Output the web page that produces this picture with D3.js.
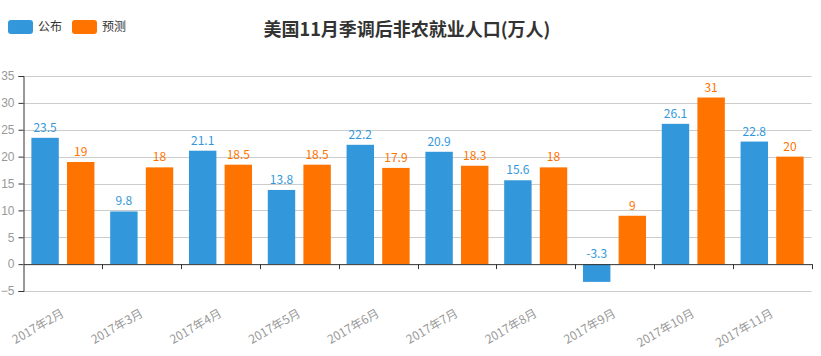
<!DOCTYPE html>
<html><head><meta charset="utf-8">
<script src="https://cdn.jsdelivr.net/npm/d3@7"></script>
<style>body{margin:0;background:#fff}svg{display:block;font-family:"Noto Sans CJK SC","Microsoft YaHei",sans-serif}</style>
</head><body>
<svg id="c" width="821" height="356"></svg>
<script>
const categories = ["2017年2月","2017年3月","2017年4月","2017年5月","2017年6月","2017年7月","2017年8月","2017年9月","2017年10月","2017年11月"];
const published = [23.5, 9.8, 21.1, 13.8, 22.2, 20.9, 15.6, -3.3, 26.1, 22.8];
const forecast = [19, 18, 18.5, 18.5, 17.9, 18.3, 18, 9, 31, 20];
const yTicks = [-5, 0, 5, 10, 15, 20, 25, 30, 35];
const seriesNames = ["公布", "预测"];
const colors = ["#3398DB", "#FF7300"];
const title = "美国11月季调后非农就业人口(万人)";

const svg = d3.select("#c");
const pL = 23.5, pR = 811.5, pT = 76, pB = 291;
const x = d3.scaleBand().domain(categories).range([pL, pR]).paddingInner(0).paddingOuter(0);
const y = d3.scaleLinear().domain([-5, 35]).range([pB, pT]);

// grid
svg.append("g").selectAll("line").data(yTicks.filter(d => d !== 0)).join("line")
  .attr("x1", pL).attr("x2", pR).attr("y1", d => Math.round(y(d)) + 0.5).attr("y2", d => Math.round(y(d)) + 0.5)
  .attr("stroke", "#ccc").attr("stroke-width", 1);

// bars
const bw = x.bandwidth();
const barW = bw * 0.8 / 2.3;
const gap = barW * 0.3;
const groups = [published, forecast];
groups.forEach((vals, si) => {
  const g = svg.append("g");
  const off = bw * 0.1 + si * (barW + gap);
  g.selectAll("rect").data(vals).join("rect")
    .attr("x", (d, i) => x(categories[i]) + off)
    .attr("width", barW)
    .attr("y", d => Math.min(y(d), y(0)))
    .attr("height", d => Math.abs(y(d) - y(0)))
    .attr("fill", colors[si]);
  g.selectAll("text").data(vals).join("text")
    .attr("x", (d, i) => x(categories[i]) + off + barW / 2)
    .attr("y", d => Math.min(y(d), y(0)) - 6)
    .attr("text-anchor", "middle")
    .attr("font-size", 12)
    .attr("fill", colors[si])
    .text(d => d);
});

// y axis
const yAxis = svg.append("g").attr("transform", `translate(${pL},0)`)
  .call(d3.axisLeft(y).tickValues(yTicks).tickSize(5).tickPadding(4).tickFormat(d3.format("d")));
yAxis.select(".domain").attr("stroke", "#333");
yAxis.selectAll(".tick line").attr("stroke", "#333");
yAxis.selectAll(".tick text").attr("fill", "#999").attr("font-size", 12).attr("font-family", "inherit");

// x axis at zero
const xAxis = svg.append("g").attr("transform", `translate(0,${y(0)})`)
  .call(d3.axisBottom(x).tickSize(0).tickFormat(""));
xAxis.select(".domain").attr("stroke", "#333");
xAxis.selectAll(".tick").remove();
const bounds = categories.map(c => x(c)).concat([pR]);
svg.append("g").selectAll("line").data(bounds.slice(1)).join("line")
  .attr("x1", d => Math.round(d) + 0.5).attr("x2", d => Math.round(d) + 0.5)
  .attr("y1", y(0)).attr("y2", y(0) + 5).attr("stroke", "#333");

// x labels
svg.append("g").selectAll("text").data(categories).join("text")
  .attr("transform", d => `translate(${x(d) + bw / 2},${312}) rotate(-30)`)
  .attr("text-anchor", "end").attr("dy", "0.35em")
  .attr("font-size", 12).attr("fill", "#999").text(d => d);

// title
svg.append("text").attr("x", 407).attr("y", 36).attr("text-anchor", "middle")
  .attr("font-size", 18).attr("font-weight", "bold").attr("fill", "#333").text(title);

// legend
const lg = svg.append("g");
const lx = [8, 72];
seriesNames.forEach((n, i) => {
  lg.append("rect").attr("x", lx[i]).attr("y", 20).attr("width", 25).attr("height", 14).attr("rx", 3).attr("fill", colors[i]);
  lg.append("text").attr("x", lx[i] + 30).attr("y", 27).attr("dy", "0.35em").attr("font-size", 12).attr("fill", "#333").text(n);
});
</script>
</body></html>
